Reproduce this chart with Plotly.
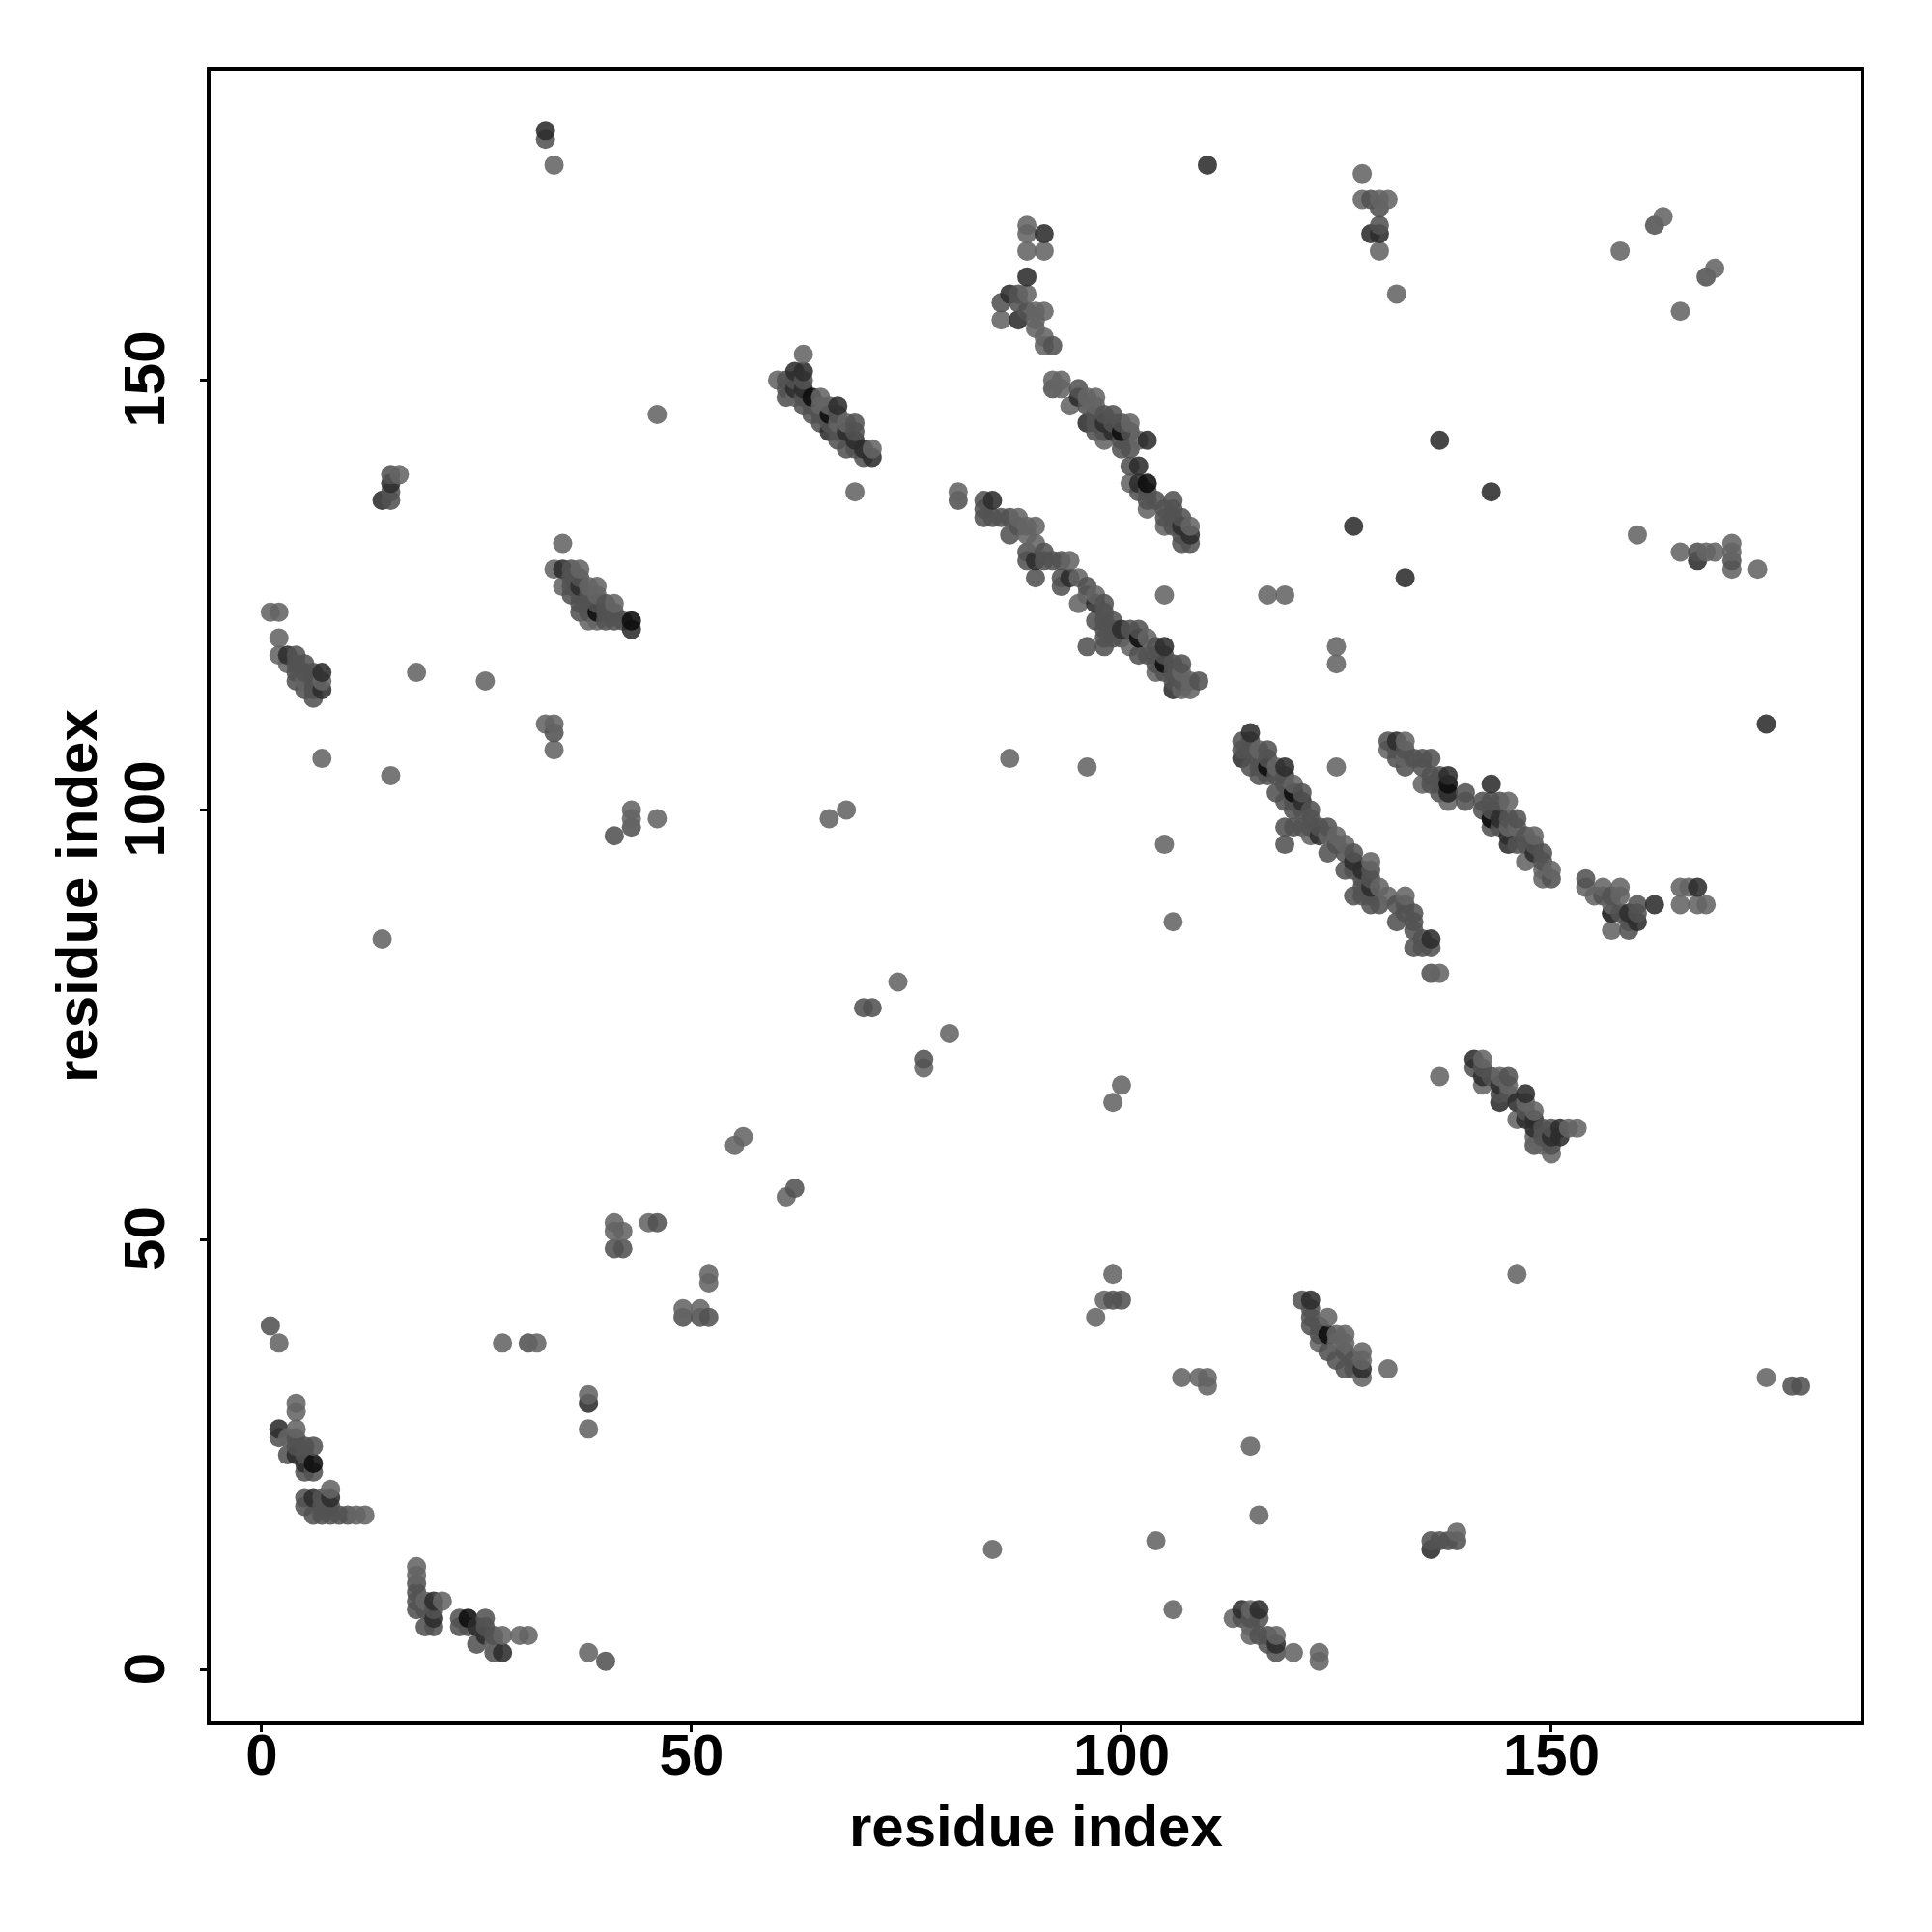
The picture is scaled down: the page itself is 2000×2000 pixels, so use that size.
import numpy as np
import plotly.graph_objects as go

# contacts (residue i, residue j), grouped by how dark the point is
light = [
    (2,38),(4,31),(4,30),(4,28),(3,27),(8,21),(11,18),(12,18),(32,38),(38,32),
    (18,12),(18,11),(21,8),(28,4),(30,4),(31,4),(38,2),(27,3),(19,8),
    (16,139),(35,131),(34,128),(37,128),(38,126),(39,126),(39,125),(41,124),(38,122),(39,122),(35,126),
    (1,123),(2,123),(2,120),(2,118),(5,115),(7,115),(26,115),(7,106),(15,104),(33,110),(34,110),(34,107),(46,99),(46,146),(3,117),
    (63,153),(60,150),(62,148),(65,148),(65,147),(68,145),(71,142),(69,137),(67,145),(66,147),
    (92,150),(93,150),(93,149),(94,147),(97,148),(96,148),(97,147),(101,145),(98,143),(102,143),(101,138),(103,135),(105,133),(108,133),
    (81,137),(89,133),(90,133),(88,134),(90,131),(89,132),(94,129),(97,125),(96,125),(95,127),(95,124),(103,120),(101,119),(104,116),(107,116),(108,115),(108,114),(107,114),
    (116,107),(118,105),(120,103),(125,97),(126,96),(124,97),(129,94),(131,90),(130,91),(133,90),(137,81),(122,97),
    (133,108),(131,107),(133,106),(135,103),(138,101),(145,101),(146,98),(145,98),(148,97),(147,94),(149,92),(149,93),(150,93),
    (154,91),(155,90),(156,91),(158,91),(158,90),(157,89),(157,86),(165,91),(165,89),(166,91),(167,89),(168,89),
    (142,71),(144,69),(145,68),(142,68),(148,65),(146,64),(152,63),(153,63),(148,62),(149,61),(150,60),(137,69),(147,66),
    (124,41),(125,39),(126,39),(125,38),(126,38),(128,37),(128,36),(128,34),(131,35),(123,38),
    (115,7),(118,4),(120,2),(123,2),(123,1),(115,5),(115,4),(113,6),
    (34,175),(128,174),(128,171),(130,171),(131,171),(130,165),(132,160),
    (89,168),(89,167),(89,165),(91,165),(89,160),(86,157),(90,158),(91,158),(90,157),(90,156),(91,155),(91,154),
    (158,165),(163,169),(169,163),(165,158),(160,132),(117,125),(119,125),(165,130),(168,130),(169,130),(171,131),(171,130),(171,128),(174,128),
    (125,119),(125,117),(87,106),(96,105),(105,96),(106,87),(66,99),(68,100),(14,85),
    (74,80),(77,70),(80,74),(55,61),(56,62),(61,55),(100,68),(99,66),
    (41,52),(41,51),(42,51),(45,52),(52,46),(52,45),(49,42),(51,42),(99,46),(98,43),(97,41),(146,46),
    (107,34),(109,34),(110,34),(110,33),(175,34),(115,26),(116,18),(104,15),(85,14),(139,16),(106,7),(43,100),
    (18,116),(28,38),(38,28),(43,99),(125,105),(105,125),
]
mid = [
    (1,40),(31,38),(40,1),(2,27),(4,27),(4,26),(5,26),(6,26),(5,25),(5,23),(6,23),(3,25),
    (5,20),(5,19),(7,20),(7,19),(8,19),(7,18),(8,18),(9,18),(10,18),(6,18),
    (18,10),(18,9),(18,8),(18,7),(19,7),(20,7),(19,5),(20,5),
    (23,6),(23,5),(24,5),(26,6),(26,5),(25,3),(27,4),(27,2),
    (15,139),(15,137),(15,136),(36,128),(36,125),(37,127),(40,124),(40,122),(41,122),(42,122),(40,123),(37,123),(38,125),(36,126),(37,125),
    (4,118),(4,117),(4,116),(4,115),(5,116),(6,116),(6,115),(6,114),(6,113),(34,109),(43,98),(41,97),(49,41),(51,41),(52,41),
    (63,150),(61,150),(62,150),(61,148),(61,149),(63,148),(64,146),(65,146),(69,145),(69,144),(68,142),(69,142),(70,141),(67,143),
    (92,149),(95,149),(96,147),(97,145),(99,146),(99,145),(101,144),(100,143),(100,142),(101,142),(101,140),(102,137),(103,137),(104,136),(106,136),(106,135),(105,135),(106,134),(106,133),(107,132),(107,131),(108,131),
    (81,136),(84,136),(84,135),(84,134),(85,134),(86,134),(87,134),(87,132),(88,133),(89,130),(89,129),(91,130),(91,129),(92,129),(93,129),(90,127),(93,126),(93,127),(96,126),(98,124),(97,122),(98,123),(98,122),(99,122),(98,121),(98,120),(98,119),(96,119),(101,121),(102,121),(102,118),(104,119),(103,118),(105,118),(106,117),(107,117),(106,116),(109,115),
    (114,108),(114,107),(115,108),(115,107),(117,107),(117,106),(116,104),(117,104),(118,104),(119,104),(118,102),(119,103),(120,102),(121,102),(119,101),(121,100),(122,99),(119,98),(120,98),(121,98),(122,98),(123,98),(124,98),(119,96),(124,95),(125,96),(126,95),(127,95),(126,93),(127,93),(129,93),(129,92),(128,90),(129,90),(129,89),(127,90),(132,89),(133,89),(130,89),(132,87),(133,88),(134,88),(134,87),(134,86),(135,85),(134,84),(135,84),(136,84),(136,81),
    (131,108),(132,107),(133,107),(132,106),(134,106),(135,106),(136,106),(135,105),(133,105),(136,104),(137,104),(137,103),(136,103),(137,102),(138,102),(140,102),(140,101),
    (142,101),(142,100),(143,101),(144,101),(143,100),(143,99),(143,98),(144,98),(145,99),(146,99),(146,96),(147,97),(147,96),(148,96),(149,95),(149,94),(150,92),
    (154,92),(156,90),(157,90),(157,88),(158,88),(160,89),(160,88),(159,87),(159,86),
    (141,70),(142,70),(143,69),(145,69),(145,67),(144,67),(147,65),(149,63),(150,63),(149,62),(148,61),(150,61),
    (121,43),(122,42),(122,41),(122,40),(123,40),(123,39),(124,37),(125,36),(126,37),(126,35),(127,36),(127,35),
    (114,6),(115,6),(116,6),(116,4),(117,4),(117,3),(118,2),
    (33,178),(129,171),(130,170),(130,168),(88,160),(88,159),(86,159),(89,158),(92,154),
    (162,168),(168,162),(167,130),(171,129),(62,56),
    (70,77),(71,77),(77,71),(42,49),(41,49),(46,52),(99,43),(100,43),(178,33),(179,33),(136,15),(137,15),(138,15),(139,15),
    (116,106),(115,105),(116,105),(122,100),(120,101),(120,100),(128,91),(128,92),(99,121),(99,120),(100,120),
    (104,118),(104,117),(105,116),(106,115),(107,115),(103,136),(105,134),(107,134),(100,145),(98,144),(97,144),
    (97,146),(98,146),(65,145),(66,145),(67,144),(67,146),(64,147),(63,147),(37,124),(38,124),(39,124),(38,123),
    (36,127),(41,123),(5,117),(5,114),
]
dark = [
    (2,28),(4,25),(5,24),(8,20),(6,20),(20,8),(20,6),(25,5),(26,4),(28,2),(38,31),
    (15,138),(14,136),(35,128),(37,126),(43,121),(3,118),(7,116),(7,114),
    (62,151),(62,149),(63,149),(67,147),(66,144),(68,144),(69,143),(70,142),(71,141),(63,151),
    (95,148),(96,145),(98,145),(99,144),(103,143),(102,140),(102,138),(107,133),(108,132),
    (85,136),(90,129),(94,127),(97,124),(100,121),(105,119),(106,114),
    (114,106),(115,109),(119,105),(121,101),(123,97),(127,94),(128,93),(129,91),(136,85),
    (132,108),(138,104),(138,102),(143,103),(144,99),(145,97),(145,96),(148,95),
    (157,88),(159,88),(162,89),(160,87),(167,91),
    (141,71),(142,69),(144,68),(144,66),(146,66),(147,67),(147,64),(148,64),(148,63),(150,62),(151,63),(151,62),
    (122,43),(128,35),(114,7),(116,7),(118,3),
    (33,179),(129,167),(130,167),(91,167),(89,162),(87,160),(88,157),
    (110,175),(137,143),(143,137),(127,133),(133,127),(167,129),(175,110),(136,14),
]
black = [
    (6,24),(24,6),(43,122),(64,148),(66,146),(100,144),(103,138),(102,120),(105,117),
    (117,105),(120,102),(39,123),(138,103),(143,99),(124,39),
]

tick_values = [0, 50, 100, 150]
axis_title = "residue index"

shades = [(light, 100), (mid, 82), (dark, 44), (black, 12)]
i = np.concatenate([[p[0] for p in g] for g, _ in shades])
j = np.concatenate([[p[1] for p in g] for g, _ in shades])
grey = np.concatenate([[s] * len(g) for g, s in shades])
order = np.lexsort((j, i))

fig = go.Figure(go.Scatter(
    x=i[order], y=j[order], mode="markers", hoverinfo="skip",
    marker=dict(size=20, color=grey[order], cmin=0, cmax=255,
                colorscale=[[0, "black"], [1, "white"]], showscale=False,
                opacity=0.88, line=dict(width=0)),
))
axis = dict(
    tickmode="array", tickvals=tick_values, ticktext=[str(v) for v in tick_values],
    showgrid=False, zeroline=False, showline=True, mirror=True,
    linecolor="black", linewidth=4, ticks="outside", ticklen=7, tickwidth=3,
    tickcolor="black",
    tickfont=dict(family="Liberation Sans", size=60, color="black", weight=700),
)
fig.update_layout(
    width=1984, height=1984, autosize=False, showlegend=False,
    paper_bgcolor="white", plot_bgcolor="white",
    margin=dict(l=210, r=66, t=65, b=210),
    font=dict(family="Liberation Sans", color="black"),
    xaxis=dict(axis, range=[-5.95, 185.96], ticklabelstandoff=-28),
    yaxis=dict(axis, range=[-6.0, 186.0], tickangle=-90, ticklabelstandoff=13, ticklabelshift=8),
    annotations=[
        dict(text=axis_title, xref="paper", yref="paper", x=0.5, y=-0.0632,
             showarrow=False, yanchor="middle", font=dict(size=60, weight=700)),
        dict(text=axis_title, xref="paper", yref="paper", x=-0.0811, y=0.5,
             showarrow=False, textangle=-90, xanchor="center", font=dict(size=60, weight=700)),
    ],
)
fig.write_html("out.html")
